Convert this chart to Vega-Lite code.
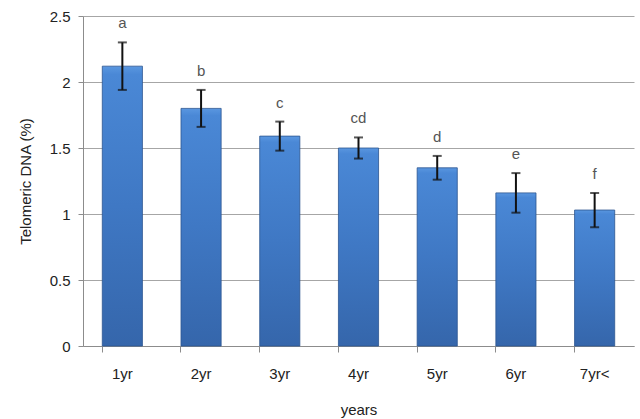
{
  "$schema": "https://vega.github.io/schema/vega-lite/v6.json",
  "width": 551,
  "height": 330,
  "autosize": {"type": "none"},
  "padding": {"left": 83, "top": 16, "right": 6, "bottom": 73},
  "background": "white",
  "config": {
    "view": {"stroke": null},
    "font": "Liberation Sans",
    "axis": {
      "labelFont": "Liberation Sans",
      "titleFont": "Liberation Sans",
      "labelFontSize": 15,
      "titleFontSize": 15,
      "titleFontWeight": "normal",
      "labelColor": "#222222",
      "titleColor": "#222222",
      "domainColor": "#8c8c8c",
      "tickColor": "#8c8c8c",
      "gridColor": "#a6a6a6"
    }
  },
  "data": {
    "values": [
      {"year": "1yr", "dna": 2.12, "lo": 1.94, "hi": 2.30, "group": "a"},
      {"year": "2yr", "dna": 1.80, "lo": 1.66, "hi": 1.94, "group": "b"},
      {"year": "3yr", "dna": 1.59, "lo": 1.48, "hi": 1.70, "group": "c"},
      {"year": "4yr", "dna": 1.50, "lo": 1.42, "hi": 1.58, "group": "cd"},
      {"year": "5yr", "dna": 1.35, "lo": 1.26, "hi": 1.44, "group": "d"},
      {"year": "6yr", "dna": 1.16, "lo": 1.01, "hi": 1.31, "group": "e"},
      {"year": "7yr<", "dna": 1.03, "lo": 0.90, "hi": 1.16, "group": "f"}
    ]
  },
  "encoding": {
    "x": {
      "field": "year",
      "type": "nominal",
      "sort": null,
      "scale": {"paddingInner": 0.49, "paddingOuter": 0.245},
      "axis": {
        "title": "years",
        "labelAngle": 0,
        "bandPosition": 0,
        "tickSize": 6,
        "labelPadding": 14,
        "titlePadding": 21
      }
    }
  },
  "layer": [
    {
      "mark": {
        "type": "bar",
        "stroke": "#2c5690",
        "strokeWidth": 0.8,
        "color": {
          "gradient": "linear",
          "x1": 0, "y1": 0, "x2": 0, "y2": 1,
          "stops": [
            {"offset": 0, "color": "#5a97e0"},
            {"offset": 0.03, "color": "#4a88d6"},
            {"offset": 0.5, "color": "#3f78c4"},
            {"offset": 1, "color": "#3566ab"}
          ]
        }
      },
      "encoding": {
        "y": {
          "field": "dna",
          "type": "quantitative",
          "scale": {"domain": [0, 2.5], "nice": false},
          "axis": {
            "title": "Telomeric DNA (%)",
            "values": [0, 0.5, 1, 1.5, 2, 2.5],
            "format": "~g",
            "tickSize": 5,
            "labelPadding": 8,
            "titlePadding": 16,
            "grid": true
          }
        }
      }
    },
    {
      "mark": {"type": "rule", "color": "#111111", "strokeWidth": 2},
      "encoding": {
        "y": {"field": "lo", "type": "quantitative"},
        "y2": {"field": "hi"}
      }
    },
    {
      "mark": {"type": "tick", "color": "#111111", "thickness": 2, "size": 9, "orient": "horizontal"},
      "encoding": {"y": {"field": "lo", "type": "quantitative"}}
    },
    {
      "mark": {"type": "tick", "color": "#111111", "thickness": 2, "size": 9, "orient": "horizontal"},
      "encoding": {"y": {"field": "hi", "type": "quantitative"}}
    },
    {
      "mark": {"type": "text", "fontSize": 15, "color": "#555555", "baseline": "alphabetic", "dy": -14},
      "encoding": {
        "y": {"field": "hi", "type": "quantitative"},
        "text": {"field": "group"}
      }
    }
  ]
}
